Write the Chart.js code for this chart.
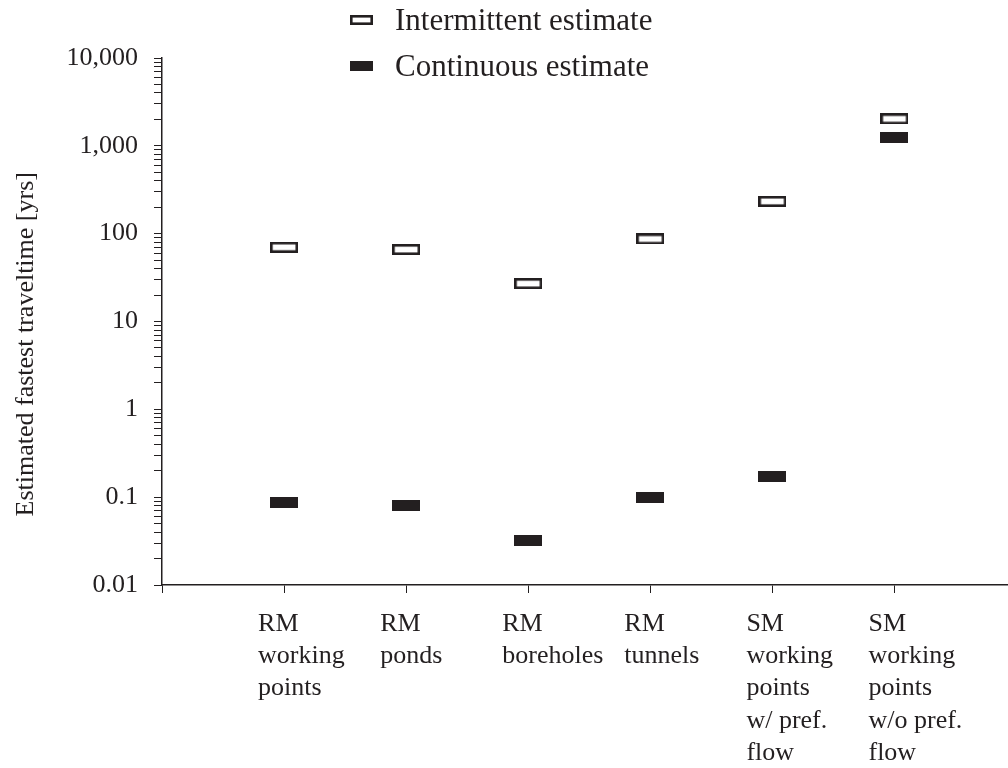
<!DOCTYPE html>
<html>
<head>
<meta charset="utf-8">
<script src="https://cdn.jsdelivr.net/npm/chart.js@4/dist/chart.umd.min.js"></script>
<style>
  html, body { margin: 0; padding: 0; background: #fff; }
  #wrap { width: 1008px; height: 768px; }
</style>
</head>
<body>
<div id="wrap"><canvas id="chart" width="1008" height="768"></canvas></div>
<script>
// categories along the x axis (one line per array entry)
const categories = [
  ['RM', 'working', 'points'],
  ['RM', 'ponds'],
  ['RM', 'boreholes'],
  ['RM', 'tunnels'],
  ['SM', 'working', 'points', 'w/ pref.', 'flow'],
  ['SM', 'working', 'points', 'w/o pref.', 'flow']
];
// estimated fastest traveltime [yrs]
const intermittent = [70, 66, 27, 87, 233, 2030];
const continuous = [0.086, 0.080, 0.032, 0.098, 0.174, 1250];

const yMajor = [0.01, 0.1, 1, 10, 100, 1000, 10000];
const yLabels = ['0.01', '0.1', '1', '10', '100', '1,000', '10,000'];

const INK = '#231f20';
const FONT = "'Liberation Serif', 'Times New Roman', serif";

// little box glyphs used as point styles
function makeBox(w, h, filled) {
  const c = document.createElement('canvas');
  c.width = w;
  c.height = h;
  const g = c.getContext('2d');
  if (filled) {
    g.fillStyle = INK;
    g.fillRect(0, 0, w, h);
  } else {
    g.fillStyle = '#fff';
    g.fillRect(0, 0, w, h);
    g.strokeStyle = INK;
    g.lineWidth = 2.6;
    g.strokeRect(1.3, 1.3, w - 2.6, h - 2.6);
  }
  return c;
}

const openBox = makeBox(28, 11, false);
const solidBox = makeBox(28, 11, true);

// all decade + minor tick positions for the log axis
const yTicks = [];
yMajor.forEach((v, i) => {
  if (i === yMajor.length - 1) { yTicks.push(v); return; }
  for (let m = 1; m <= 9; m++) yTicks.push(Number((v * m).toPrecision(2)));
});

// two stacked legend rows above the plot, drawn like the original
const stackedLegend = {
  id: 'stackedLegend',
  afterDraw(chart) {
    const ctx = chart.ctx;
    const rows = [
      { text: 'Intermittent estimate', box: makeBox(23, 10, false), y: 20 },
      { text: 'Continuous estimate', box: makeBox(23, 10, true), y: 66 }
    ];
    ctx.save();
    ctx.font = '31px ' + FONT;
    ctx.fillStyle = INK;
    ctx.textBaseline = 'middle';
    rows.forEach(r => {
      ctx.drawImage(r.box, 350, r.y - 5);
      ctx.fillText(r.text, 395, r.y + 2);
    });
    ctx.restore();
  }
};

const xValues = categories.map((c, i) => i + 1);

new Chart(document.getElementById('chart'), {
  type: 'scatter',
  data: {
    datasets: [
      {
        label: 'Intermittent estimate',
        data: xValues.map((x, i) => ({ x: x, y: intermittent[i] })),
        pointStyle: openBox
      },
      {
        label: 'Continuous estimate',
        data: xValues.map((x, i) => ({ x: x, y: continuous[i] })),
        pointStyle: solidBox
      }
    ]
  },
  options: {
    responsive: false,
    animation: false,
    events: [],
    layout: { autoPadding: false, padding: { top: 58, left: 0, right: 0, bottom: 0 } },
    plugins: {
      legend: { display: false },
      tooltip: { enabled: false }
    },
    scales: {
      x: {
        type: 'linear',
        min: 0,
        max: 6.93,
        afterBuildTicks: (scale) => {
          scale.ticks = [0].concat(xValues).map(v => ({ value: v }));
        },
        afterFit: (scale) => { scale.height = 183; },
        grid: { drawOnChartArea: false, tickLength: 8, color: INK, lineWidth: 1 },
        border: { color: INK, width: 1.5 },
        ticks: {
          autoSkip: false,
          maxRotation: 0,
          align: 'start',
          labelOffset: -26,
          padding: 15,
          color: INK,
          font: { family: FONT, size: 26, lineHeight: 1.24 },
          callback: (v) => (v >= 1 ? categories[v - 1] : '')
        }
      },
      y: {
        type: 'logarithmic',
        min: 0.01,
        max: 10000,
        afterBuildTicks: (scale) => {
          scale.ticks = yTicks.map(v => ({ value: v }));
        },
        afterFit: (scale) => { scale.width = 162; },
        grid: { drawOnChartArea: false, tickLength: 8, color: INK, lineWidth: 1 },
        border: { color: INK, width: 1.5 },
        title: {
          display: true,
          // trailing spaces nudge the centred title down, as in the original
          text: 'Estimated fastest traveltime [yrs]       ',
          color: INK,
          font: { family: FONT, size: 26 },
          padding: { top: 11, bottom: 0 }
        },
        ticks: {
          autoSkip: false,
          padding: 16,
          color: INK,
          font: { family: FONT, size: 26 },
          callback: (v) => {
            const k = yMajor.indexOf(v);
            return k >= 0 ? yLabels[k] : '';
          }
        }
      }
    }
  },
  plugins: [stackedLegend]
});
</script>
</body>
</html>
